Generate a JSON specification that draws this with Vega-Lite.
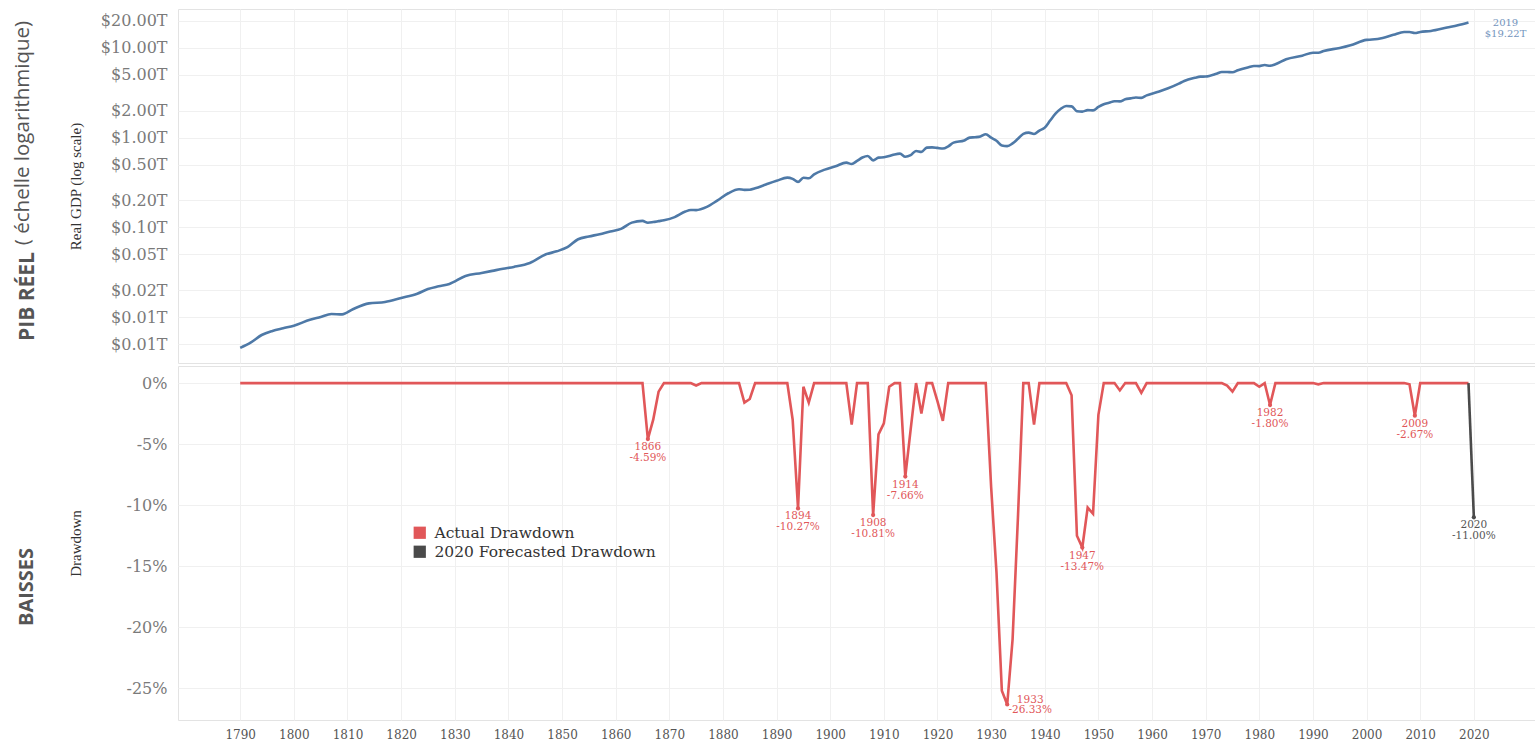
{
  "$schema": "https://vega.github.io/schema/vega-lite/v6.json",
  "padding": {"left": 12, "top": 8, "right": 0, "bottom": 0},
  "background": "white",
  "spacing": 1,
  "config": {
    "view": {"stroke": "#e3e3e3"},
    "axis": {"labelFont": "DejaVu Serif", "titleFont": "Liberation Serif", "gridColor": "#f0f0f0", "ticks": false, "domain": false}
  },
  "datasets": {
    "gdp": [
      {"year":1790,"gdp":0.00452},{"year":1792,"gdp":0.0052},{"year":1794,"gdp":0.0063},{"year":1796,"gdp":0.0070},{"year":1798,"gdp":0.0075},{"year":1800,"gdp":0.0080},{"year":1803,"gdp":0.0093},{"year":1805,"gdp":0.0100},{"year":1807,"gdp":0.0108},{"year":1809,"gdp":0.0107},{"year":1811,"gdp":0.0122},{"year":1814,"gdp":0.0142},{"year":1817,"gdp":0.0147},{"year":1820,"gdp":0.0163},{"year":1823,"gdp":0.0182},{"year":1825,"gdp":0.0205},{"year":1827,"gdp":0.0220},{"year":1829,"gdp":0.0234},{"year":1832,"gdp":0.0287},{"year":1835,"gdp":0.0310},{"year":1837,"gdp":0.0327},{"year":1839,"gdp":0.0345},{"year":1841,"gdp":0.0362},{"year":1844,"gdp":0.0401},{"year":1847,"gdp":0.0500},{"year":1849,"gdp":0.0540},{"year":1851,"gdp":0.0600},{"year":1853,"gdp":0.0737},{"year":1855,"gdp":0.0790},{"year":1857,"gdp":0.0838},{"year":1859,"gdp":0.0900},{"year":1861,"gdp":0.0960},{"year":1863,"gdp":0.1128},{"year":1865,"gdp":0.1180},{"year":1866,"gdp":0.1126},{"year":1867,"gdp":0.1145},{"year":1868,"gdp":0.1172},{"year":1869,"gdp":0.1200},{"year":1871,"gdp":0.1300},{"year":1873,"gdp":0.1500},{"year":1874,"gdp":0.1560},{"year":1875,"gdp":0.1557},{"year":1877,"gdp":0.1690},{"year":1879,"gdp":0.2000},{"year":1881,"gdp":0.2400},{"year":1883,"gdp":0.2660},{"year":1884,"gdp":0.2617},{"year":1885,"gdp":0.2625},{"year":1886,"gdp":0.2720},{"year":1888,"gdp":0.3000},{"year":1890,"gdp":0.3300},{"year":1892,"gdp":0.3580},{"year":1893,"gdp":0.3473},{"year":1894,"gdp":0.3212},{"year":1895,"gdp":0.3570},{"year":1896,"gdp":0.3522},{"year":1897,"gdp":0.3900},{"year":1899,"gdp":0.4400},{"year":1901,"gdp":0.4800},{"year":1903,"gdp":0.5260},{"year":1904,"gdp":0.5081},{"year":1905,"gdp":0.5500},{"year":1906,"gdp":0.6000},{"year":1907,"gdp":0.6250},{"year":1908,"gdp":0.5574},{"year":1909,"gdp":0.5988},{"year":1910,"gdp":0.6044},{"year":1911,"gdp":0.6231},{"year":1912,"gdp":0.6500},{"year":1913,"gdp":0.6630},{"year":1914,"gdp":0.6122},{"year":1915,"gdp":0.6380},{"year":1916,"gdp":0.7110},{"year":1917,"gdp":0.6932},{"year":1918,"gdp":0.7740},{"year":1919,"gdp":0.7800},{"year":1920,"gdp":0.7683},{"year":1921,"gdp":0.7558},{"year":1922,"gdp":0.8000},{"year":1923,"gdp":0.8800},{"year":1925,"gdp":0.9300},{"year":1926,"gdp":1.0000},{"year":1927,"gdp":1.0100},{"year":1928,"gdp":1.0300},{"year":1929,"gdp":1.0910},{"year":1930,"gdp":0.9983},{"year":1931,"gdp":0.9219},{"year":1932,"gdp":0.8160},{"year":1933,"gdp":0.8037},{"year":1934,"gdp":0.8619},{"year":1935,"gdp":0.9710},{"year":1936,"gdp":1.1000},{"year":1937,"gdp":1.1370},{"year":1938,"gdp":1.0983},{"year":1939,"gdp":1.2000},{"year":1940,"gdp":1.2930},{"year":1941,"gdp":1.5500},{"year":1942,"gdp":1.8500},{"year":1943,"gdp":2.1000},{"year":1944,"gdp":2.2560},{"year":1945,"gdp":2.2334},{"year":1946,"gdp":1.9740},{"year":1947,"gdp":1.9521},{"year":1948,"gdp":2.0260},{"year":1949,"gdp":2.0146},{"year":1950,"gdp":2.1973},{"year":1951,"gdp":2.3570},{"year":1952,"gdp":2.4500},{"year":1953,"gdp":2.5500},{"year":1954,"gdp":2.5350},{"year":1955,"gdp":2.6800},{"year":1956,"gdp":2.7400},{"year":1957,"gdp":2.8000},{"year":1958,"gdp":2.7780},{"year":1959,"gdp":2.9600},{"year":1961,"gdp":3.2320},{"year":1963,"gdp":3.5500},{"year":1965,"gdp":4.0000},{"year":1966,"gdp":4.2880},{"year":1968,"gdp":4.6500},{"year":1969,"gdp":4.7860},{"year":1970,"gdp":4.8000},{"year":1972,"gdp":5.1500},{"year":1973,"gdp":5.4000},{"year":1974,"gdp":5.3890},{"year":1975,"gdp":5.3620},{"year":1976,"gdp":5.6500},{"year":1978,"gdp":6.1000},{"year":1979,"gdp":6.3000},{"year":1980,"gdp":6.2810},{"year":1981,"gdp":6.4500},{"year":1982,"gdp":6.3340},{"year":1983,"gdp":6.5800},{"year":1985,"gdp":7.4800},{"year":1988,"gdp":8.2000},{"year":1990,"gdp":8.8600},{"year":1991,"gdp":8.8500},{"year":1992,"gdp":9.2600},{"year":1995,"gdp":10.000},{"year":1997,"gdp":10.720},{"year":2000,"gdp":12.300},{"year":2001,"gdp":12.420},{"year":2003,"gdp":12.940},{"year":2005,"gdp":14.000},{"year":2007,"gdp":15.080},{"year":2008,"gdp":15.060},{"year":2009,"gdp":14.680},{"year":2010,"gdp":15.100},{"year":2012,"gdp":15.470},{"year":2015,"gdp":16.900},{"year":2017,"gdp":17.900},{"year":2019,"gdp":19.220}
    ],
    "gdplabel": [{"year": 2019, "gdp": 19.22, "label": "2019\n$19.22T"}],
    "dd": [
      {"year":1790,"dd":0,"series":"Actual Drawdown"},{"year":1865,"dd":0,"series":"Actual Drawdown"},{"year":1866,"dd":-4.59,"series":"Actual Drawdown"},{"year":1867,"dd":-3.0,"series":"Actual Drawdown"},{"year":1868,"dd":-0.7,"series":"Actual Drawdown"},{"year":1869,"dd":0,"series":"Actual Drawdown"},{"year":1874,"dd":0,"series":"Actual Drawdown"},{"year":1875,"dd":-0.2,"series":"Actual Drawdown"},{"year":1876,"dd":0,"series":"Actual Drawdown"},{"year":1883,"dd":0,"series":"Actual Drawdown"},{"year":1884,"dd":-1.6,"series":"Actual Drawdown"},{"year":1885,"dd":-1.3,"series":"Actual Drawdown"},{"year":1886,"dd":0,"series":"Actual Drawdown"},{"year":1892,"dd":0,"series":"Actual Drawdown"},{"year":1893,"dd":-3.0,"series":"Actual Drawdown"},{"year":1894,"dd":-10.27,"series":"Actual Drawdown"},{"year":1895,"dd":-0.3,"series":"Actual Drawdown"},{"year":1896,"dd":-1.6,"series":"Actual Drawdown"},{"year":1897,"dd":0,"series":"Actual Drawdown"},{"year":1903,"dd":0,"series":"Actual Drawdown"},{"year":1904,"dd":-3.4,"series":"Actual Drawdown"},{"year":1905,"dd":0,"series":"Actual Drawdown"},{"year":1907,"dd":0,"series":"Actual Drawdown"},{"year":1908,"dd":-10.81,"series":"Actual Drawdown"},{"year":1909,"dd":-4.2,"series":"Actual Drawdown"},{"year":1910,"dd":-3.3,"series":"Actual Drawdown"},{"year":1911,"dd":-0.3,"series":"Actual Drawdown"},{"year":1912,"dd":0,"series":"Actual Drawdown"},{"year":1913,"dd":0,"series":"Actual Drawdown"},{"year":1914,"dd":-7.66,"series":"Actual Drawdown"},{"year":1915,"dd":-3.8,"series":"Actual Drawdown"},{"year":1916,"dd":0,"series":"Actual Drawdown"},{"year":1917,"dd":-2.5,"series":"Actual Drawdown"},{"year":1918,"dd":0,"series":"Actual Drawdown"},{"year":1919,"dd":0,"series":"Actual Drawdown"},{"year":1920,"dd":-1.5,"series":"Actual Drawdown"},{"year":1921,"dd":-3.1,"series":"Actual Drawdown"},{"year":1922,"dd":0,"series":"Actual Drawdown"},{"year":1929,"dd":0,"series":"Actual Drawdown"},{"year":1930,"dd":-8.5,"series":"Actual Drawdown"},{"year":1931,"dd":-15.5,"series":"Actual Drawdown"},{"year":1932,"dd":-25.2,"series":"Actual Drawdown"},{"year":1933,"dd":-26.33,"series":"Actual Drawdown"},{"year":1934,"dd":-21.0,"series":"Actual Drawdown"},{"year":1935,"dd":-11.0,"series":"Actual Drawdown"},{"year":1936,"dd":0,"series":"Actual Drawdown"},{"year":1937,"dd":0,"series":"Actual Drawdown"},{"year":1938,"dd":-3.4,"series":"Actual Drawdown"},{"year":1939,"dd":0,"series":"Actual Drawdown"},{"year":1944,"dd":0,"series":"Actual Drawdown"},{"year":1945,"dd":-1.0,"series":"Actual Drawdown"},{"year":1946,"dd":-12.5,"series":"Actual Drawdown"},{"year":1947,"dd":-13.47,"series":"Actual Drawdown"},{"year":1948,"dd":-10.2,"series":"Actual Drawdown"},{"year":1949,"dd":-10.7,"series":"Actual Drawdown"},{"year":1950,"dd":-2.6,"series":"Actual Drawdown"},{"year":1951,"dd":0,"series":"Actual Drawdown"},{"year":1953,"dd":0,"series":"Actual Drawdown"},{"year":1954,"dd":-0.6,"series":"Actual Drawdown"},{"year":1955,"dd":0,"series":"Actual Drawdown"},{"year":1957,"dd":0,"series":"Actual Drawdown"},{"year":1958,"dd":-0.8,"series":"Actual Drawdown"},{"year":1959,"dd":0,"series":"Actual Drawdown"},{"year":1973,"dd":0,"series":"Actual Drawdown"},{"year":1974,"dd":-0.2,"series":"Actual Drawdown"},{"year":1975,"dd":-0.7,"series":"Actual Drawdown"},{"year":1976,"dd":0,"series":"Actual Drawdown"},{"year":1979,"dd":0,"series":"Actual Drawdown"},{"year":1980,"dd":-0.3,"series":"Actual Drawdown"},{"year":1981,"dd":0,"series":"Actual Drawdown"},{"year":1982,"dd":-1.8,"series":"Actual Drawdown"},{"year":1983,"dd":0,"series":"Actual Drawdown"},{"year":1990,"dd":0,"series":"Actual Drawdown"},{"year":1991,"dd":-0.1,"series":"Actual Drawdown"},{"year":1992,"dd":0,"series":"Actual Drawdown"},{"year":2007,"dd":0,"series":"Actual Drawdown"},{"year":2008,"dd":-0.1,"series":"Actual Drawdown"},{"year":2009,"dd":-2.67,"series":"Actual Drawdown"},{"year":2010,"dd":0,"series":"Actual Drawdown"},{"year":2019,"dd":0,"series":"Actual Drawdown"},
      {"year":2019,"dd":0,"series":"2020 Forecasted Drawdown"},{"year":2020,"dd":-11.0,"series":"2020 Forecasted Drawdown"}
    ],
    "ann": [
      {"year":1866,"dd":-4.59,"label":"1866\n-4.59%","kind":"a"},
      {"year":1894,"dd":-10.27,"label":"1894\n-10.27%","kind":"a"},
      {"year":1908,"dd":-10.81,"label":"1908\n-10.81%","kind":"a"},
      {"year":1914,"dd":-7.66,"label":"1914\n-7.66%","kind":"a"},
      {"year":1947,"dd":-13.47,"label":"1947\n-13.47%","kind":"a"},
      {"year":1982,"dd":-1.80,"label":"1982\n-1.80%","kind":"a"},
      {"year":2009,"dd":-2.67,"label":"2009\n-2.67%","kind":"a"},
      {"year":2020,"dd":-11.00,"label":"2020\n-11.00%","kind":"f"},
      {"year":1933,"dd":-26.33,"label":"1933\n-26.33%","kind":"s"}
    ]
  },
  "vconcat": [
    {
      "width": 1357,
      "height": 354,
      "title": {"text": "( échelle logarithmique)", "orient": "left", "anchor": "middle", "font": "Open Sans", "fontSize": 20.5, "fontWeight": "normal", "color": "#555555", "dx": 53, "offset": -17},
      "layer": [
        {
          "data": {"name": "gdp"},
          "mark": {"type": "line", "color": "#4e79a7", "strokeWidth": 2.6, "interpolate": "monotone"},
          "encoding": {
            "x": {"field": "year", "type": "quantitative", "scale": {"domain": [1778.4, 2031.4], "nice": false, "zero": false},
              "axis": {"values": [1790,1800,1810,1820,1830,1840,1850,1860,1870,1880,1890,1900,1910,1920,1930,1940,1950,1960,1970,1980,1990,2000,2010,2020], "grid": true, "labels": false, "ticks": false, "domain": false,
                "title": "PIB RÉEL", "titleFont": "Open Sans", "titleFontSize": 21, "titleFontWeight": "bold", "titleColor": "#555555", "titleAngle": 270, "titleX": -151, "titleY": -67, "titleAlign": "center", "titleBaseline": "middle"}},
            "y": {"field": "gdp", "type": "quantitative", "scale": {"type": "log", "domain": [0.00307, 27.2], "nice": false},
              "axis": {"values": [0.005,0.01,0.02,0.05,0.1,0.2,0.5,1,2,5,10,20], "labelExpr": "'$' + format(datum.value, '.2f') + 'T'", "grid": true,
                "labelFontSize": 16, "labelColor": "#7a7a7a", "labelPadding": 11,
                "title": "Real GDP (log scale)", "titleX": -103, "titleBaseline": "middle", "titleFontSize": 15, "titleFontWeight": "normal", "titleColor": "#333333"}}
          }
        },
        {
          "data": {"name": "gdplabel"},
          "mark": {"type": "text", "align": "center", "baseline": "middle", "dx": 37, "dy": 0, "lineBreak": "\n", "lineHeight": 11, "font": "DejaVu Serif", "fontSize": 10, "color": "#7394bd"},
          "encoding": {
            "x": {"field": "year", "type": "quantitative"},
            "y": {"field": "gdp", "type": "quantitative"},
            "text": {"field": "label"}
          }
        }
      ]
    },
    {
      "width": 1357,
      "height": 354,
      "title": {"text": "BAISSES", "orient": "left", "anchor": "middle", "font": "Open Sans", "fontSize": 20, "fontWeight": "bold", "color": "#555555", "dx": -44, "offset": 31},
      "layer": [
        {
          "data": {"name": "dd"},
          "mark": {"type": "line", "strokeWidth": 2.6},
          "encoding": {
            "x": {"field": "year", "type": "quantitative", "scale": {"domain": [1778.4, 2031.4], "nice": false, "zero": false},
              "axis": {"values": [1790,1800,1810,1820,1830,1840,1850,1860,1870,1880,1890,1900,1910,1920,1930,1940,1950,1960,1970,1980,1990,2000,2010,2020], "format": "d", "grid": true, "title": null, "labelFontSize": 12, "labelColor": "#555555", "labelPadding": 9}},
            "y": {"field": "dd", "type": "quantitative", "scale": {"domain": [-27.6, 1.4], "nice": false, "zero": false},
              "axis": {"values": [-25,-20,-15,-10,-5,0], "labelExpr": "datum.value + '%'", "grid": true,
                "labelFontSize": 16, "labelColor": "#7a7a7a", "labelPadding": 11,
                "title": "Drawdown", "titleX": -103, "titleBaseline": "middle", "titleFontSize": 15, "titleFontWeight": "normal", "titleColor": "#333333"}},
            "color": {"field": "series", "type": "nominal",
              "scale": {"domain": ["Actual Drawdown", "2020 Forecasted Drawdown"], "range": ["#e15759", "#4a4a4a"]},
              "legend": {"title": null, "orient": "none", "legendX": 234, "legendY": 516, "symbolType": "square", "symbolSize": 150, "symbolStrokeWidth": 0,
                "labelFont": "DejaVu Serif", "labelFontSize": 15.5, "labelColor": "#333333", "labelLimit": 0, "rowPadding": 2, "labelOffset": 7,
                "encode": {"symbols": {"update": {"fill": {"scale": "color", "field": "value"}, "opacity": {"value": 1}}}}}}
          }
        },
        {
          "data": {"name": "ann"},
          "mark": {"type": "point", "filled": true, "size": 18, "opacity": 1},
          "encoding": {
            "x": {"field": "year", "type": "quantitative"},
            "y": {"field": "dd", "type": "quantitative"},
            "color": {"condition": {"test": "datum.kind == 'f'", "value": "#4a4a4a"}, "value": "#e15759"}
          }
        },
        {
          "data": {"name": "ann"},
          "transform": [{"filter": "datum.kind != 's'"}],
          "mark": {"type": "text", "align": "center", "baseline": "top", "dy": 3, "lineBreak": "\n", "lineHeight": 11, "font": "DejaVu Serif", "fontSize": 10.5},
          "encoding": {
            "x": {"field": "year", "type": "quantitative"},
            "y": {"field": "dd", "type": "quantitative"},
            "text": {"field": "label"},
            "color": {"condition": {"test": "datum.kind == 'f'", "value": "#555555"}, "value": "#e15759"}
          }
        },
        {
          "data": {"name": "ann"},
          "transform": [{"filter": "datum.kind == 's'"}],
          "mark": {"type": "text", "align": "center", "baseline": "middle", "dx": 23, "dy": -4, "lineBreak": "\n", "lineHeight": 10, "font": "DejaVu Serif", "fontSize": 10.5, "color": "#e15759"},
          "encoding": {
            "x": {"field": "year", "type": "quantitative"},
            "y": {"field": "dd", "type": "quantitative"},
            "text": {"field": "label"}
          }
        }
      ]
    }
  ]
}
